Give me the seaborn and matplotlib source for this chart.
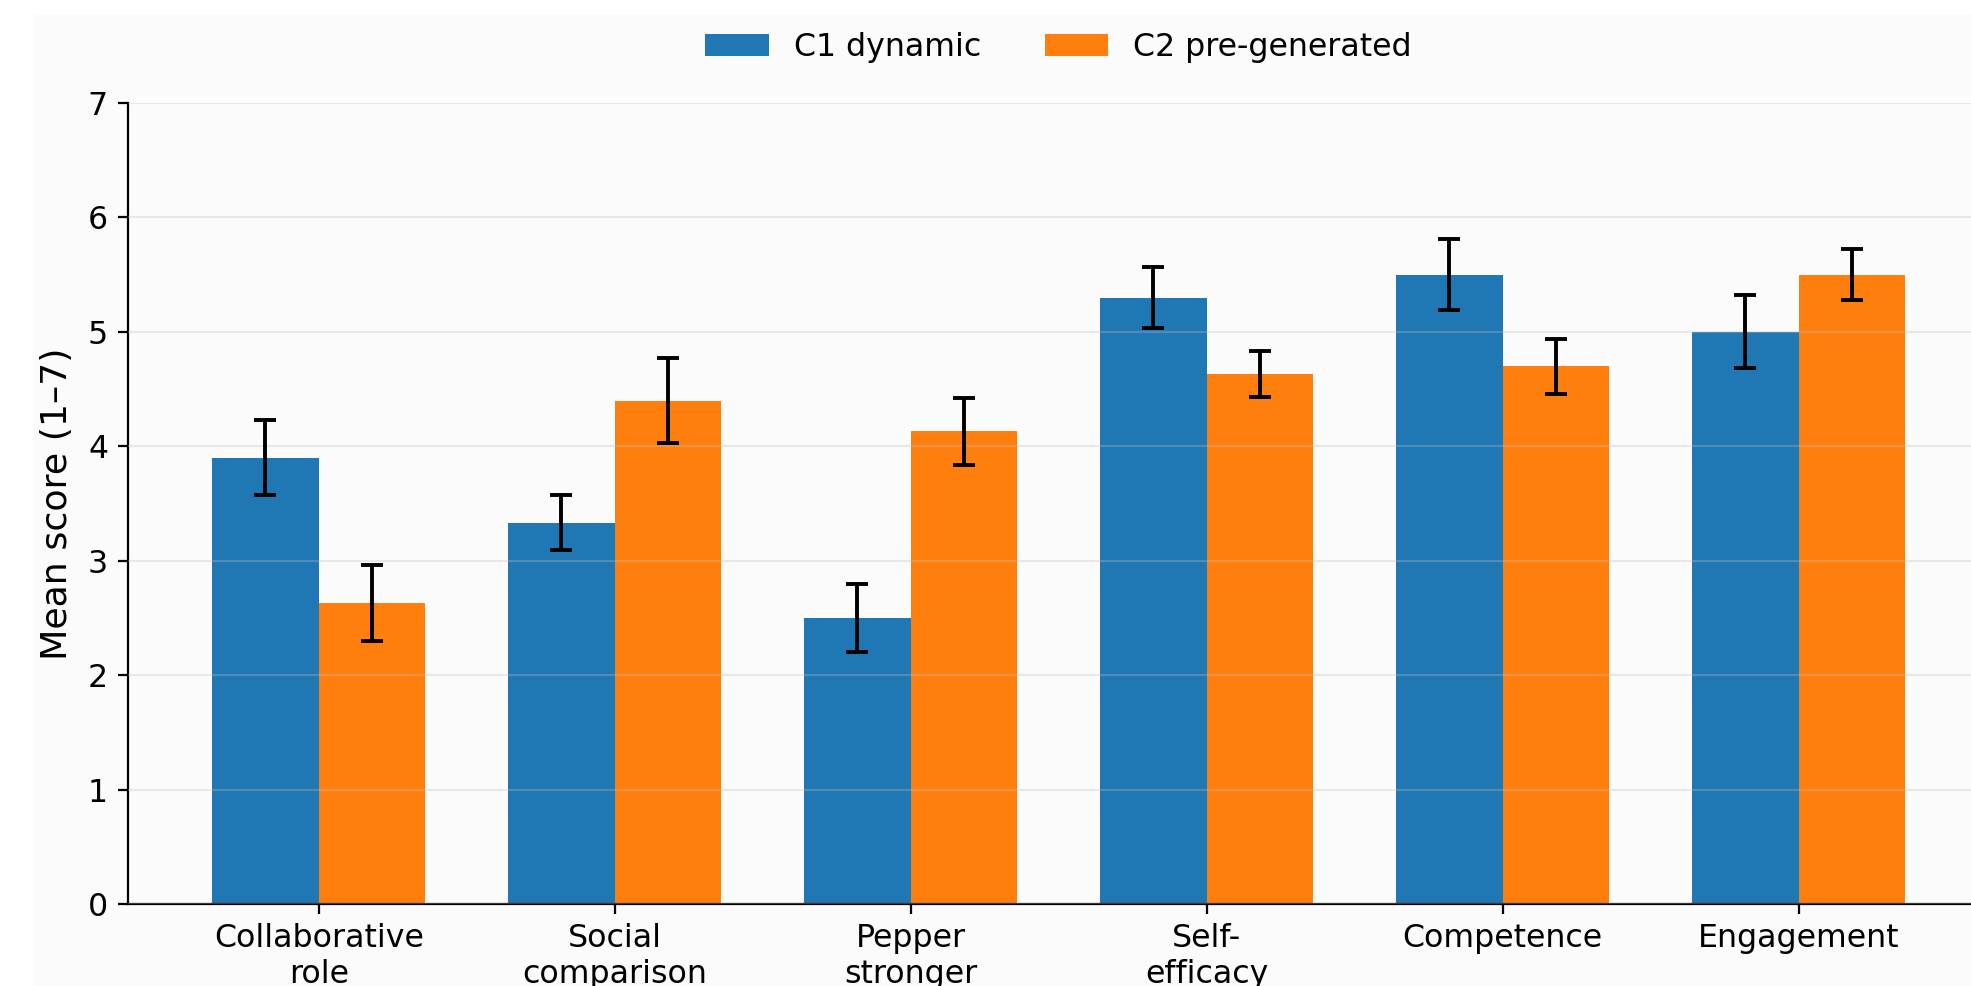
"""Mean questionnaire scores per condition (C1 dynamic vs C2 pre-generated)."""

import matplotlib
matplotlib.use("Agg")
import matplotlib.pyplot as plt
from matplotlib.patches import Rectangle
import pandas as pd
import seaborn as sns

measures = [
    "Collaborative\nrole",
    "Social\ncomparison",
    "Pepper\nstronger",
    "Self-\nefficacy",
    "Competence",
    "Engagement",
]
conditions = ["C1 dynamic", "C2 pre-generated"]
c1_mean = [3.90, 3.33, 2.50, 5.30, 5.50, 5.00]
c1_err = [0.33, 0.24, 0.30, 0.27, 0.31, 0.32]
c2_mean = [2.63, 4.40, 4.13, 4.63, 4.70, 5.50]
c2_err = [0.33, 0.37, 0.29, 0.20, 0.24, 0.22]

BLUE = "#1f77b4"
ORANGE = "#ff7f0e"
BG = "#fbfbfb"
FS = 11.4

df = pd.DataFrame({
    "measure": measures * 2,
    "condition": [conditions[0]] * len(measures) + [conditions[1]] * len(measures),
    "mean": c1_mean + c2_mean,
})
errs = [c1_err, c2_err]

sns.set_style("ticks")
plt.rcParams["font.family"] = ["DejaVu Sans"]
plt.rcParams["font.size"] = FS
for key in ("text.color", "axes.labelcolor", "xtick.color", "ytick.color", "axes.edgecolor"):
    plt.rcParams[key] = "black"

fig = plt.figure(figsize=(9.855, 4.93), dpi=200, facecolor="white")
fig.patches.append(Rectangle((33 / 1971, 0), 1, 1 - 15 / 986, transform=fig.transFigure,
                             facecolor=BG, edgecolor="none", zorder=-10))
ax = fig.add_axes([127.5 / 1971, 1 - 904 / 986, (1990 - 127.5) / 1971, 801 / 986])
ax.set_facecolor(BG)

sns.barplot(data=df, x="measure", y="mean", hue="condition", order=measures,
            hue_order=conditions, palette=[BLUE, ORANGE], width=0.72,
            saturation=1, errorbar=None, linewidth=0, ax=ax)

for container, err in zip(ax.containers, errs):
    xs = [b.get_x() + b.get_width() / 2 for b in container]
    ys = [b.get_height() for b in container]
    ax.errorbar(xs, ys, yerr=err, fmt="none", ecolor="black", elinewidth=1.4,
                capsize=3.9, capthick=1.4, zorder=5)

ax.set_xlim(-0.646, 5.646)
ax.set_ylim(0, 7)
ax.set_yticks(range(0, 8))
ax.yaxis.grid(True, color="0.75", alpha=0.3, linewidth=0.8)
ax.set_axisbelow(False)
for b in ax.patches:
    b.set_zorder(1)
ax.set_xlabel("")
ax.set_ylabel("Mean score (1\u20137)", fontsize=13.1, labelpad=5)
ax.tick_params(labelsize=FS, color="black", labelcolor="black")
for s in ("top", "right"):
    ax.spines[s].set_visible(False)

handles, labels = ax.get_legend_handles_labels()
ax.legend(handles, labels, loc="center", bbox_to_anchor=(0.5, 1.0687), ncol=2,
          frameon=False, fontsize=FS)

fig.savefig("out.png", dpi=200, facecolor="white")
plt.close(fig)
